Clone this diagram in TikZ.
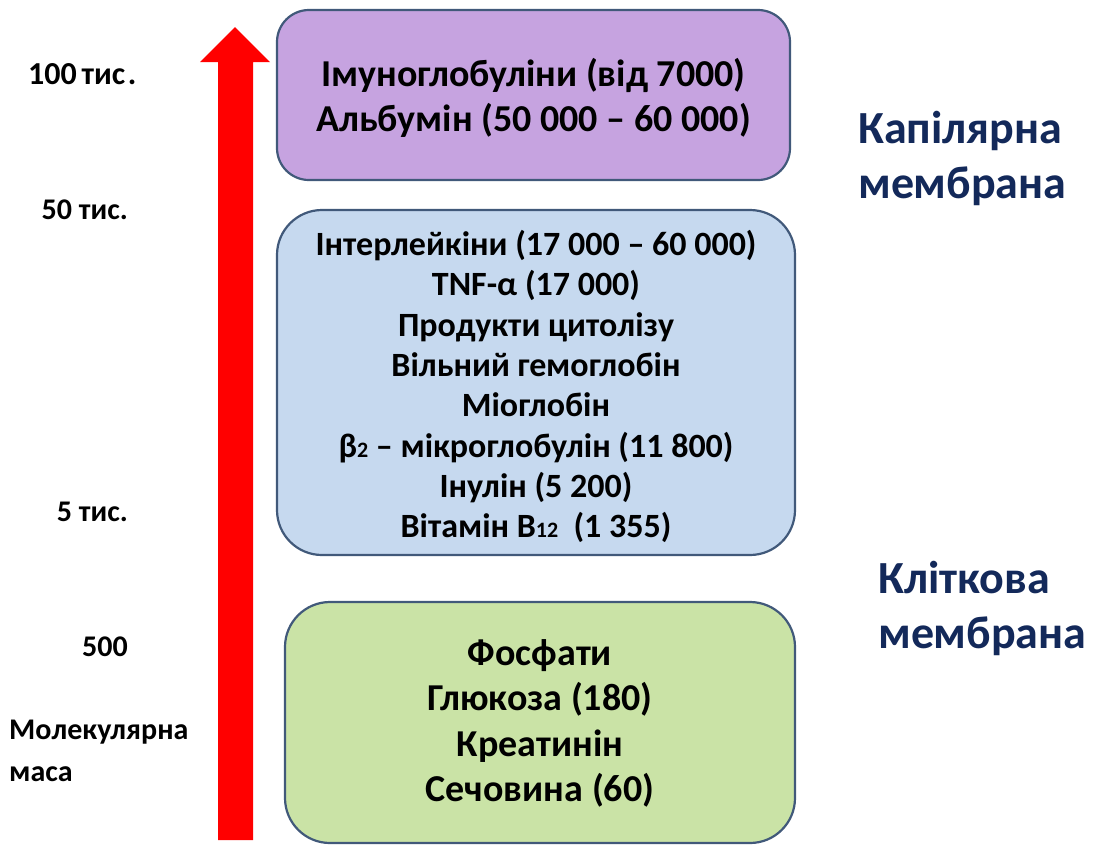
\documentclass[tikz,border=0pt]{standalone}
\usepackage{fontspec}
\setmainfont{Carlito}
\definecolor{boxline}{HTML}{41597A}
\definecolor{purplefill}{HTML}{C6A3E0}
\definecolor{bluefill}{HTML}{C6D9EF}
\definecolor{greenfill}{HTML}{CAE3A6}
\definecolor{navy}{HTML}{13295A}
\newcommand{\smalldigits}[1]{{\fontsize{22}{22}\selectfont #1}}
\begin{document}
\begin{tikzpicture}[x=1pt,y=-1pt,
  groupbox/.style={draw=boxline, line width=2.2pt, rounded corners=32pt, align=center, inner sep=0pt},
  scalelabel/.style={font=\bfseries\fontsize{30}{36}\selectfont, inner sep=0pt},
  memlabel/.style={font=\bfseries\fontsize{46}{55}\selectfont, text=navy, align=left, inner sep=0pt, anchor=base west}]
\useasboundingbox (0,0) rectangle (1095,847);
% arrow
\coordinate (tip) at (235,27);
\fill[red] (218,840) -- (218,62) -- (200,62) -- (tip) -- (270,62) -- (253,62) -- (253,840) -- cycle;
% boxes
\node[groupbox, fill=purplefill, minimum width=513pt, minimum height=170pt,
      font=\bfseries\fontsize{38}{45}\selectfont] (imm) at (533.5,95) {};
\node[align=center, font=\bfseries\fontsize{38}{45}\selectfont, inner sep=0pt] (immtext) at ([yshift=-3pt]imm.center)
  {Імуноглобуліни (від 7000)\\ Альбумін (50 000 – 60 000)};
\node[groupbox, fill=bluefill, minimum width=518pt, minimum height=345pt, rounded corners=45pt] (mid) at (536,382.5) {};
\node[align=center, font=\bfseries\fontsize{34}{40.3}\selectfont, inner sep=0pt] (midtext) at ([yshift=-4pt]mid.center)
  {Інтерлейкіни (17 000 – 60 000)\\
   TNF-α (17 000)\\
   Продукти цитолізу\\
   Вільний гемоглобін\\
   Міоглобін\\
   β\smalldigits{2} – мікроглобулін (11 800)\\
   Інулін (5 200)\\
   Вітамін В\smalldigits{12}\ \ (1 355)};
\node[groupbox, fill=greenfill, minimum width=510pt, minimum height=241pt, rounded corners=45pt] (small) at (540,722.5) {};
\node[align=center, font=\bfseries\fontsize{38}{45.5}\selectfont, inner sep=0pt] (smalltext) at ([yshift=-1pt]small.center)
  {Фосфати\\ Глюкоза (180)\\ Креатинін\\ Сечовина (60)};
% scale labels
\node[scalelabel, anchor=base west, font=\bfseries\fontsize{32}{36}\selectfont] (l100) at (28,84) {100\hspace{0.15em}тис\hspace{0.08em}.};
\node[scalelabel, anchor=base east] (l50) at (128,219) {50 тис.};
\node[scalelabel, anchor=base east] (l5) at (128,521) {5 тис.};
\node[scalelabel, anchor=base east] (l500) at (128,656) {500};
\node[scalelabel, align=left, anchor=base west, font=\bfseries\fontsize{30}{42}\selectfont] (mm) at (9,781) {Молекулярна\\маса};
% membrane labels
\node[memlabel] (cap) at (858,198) {Капілярна\\мембрана};
\node[memlabel] (cell) at (878,648) {Кліткова\\мембрана};
\end{tikzpicture}
\end{document}
